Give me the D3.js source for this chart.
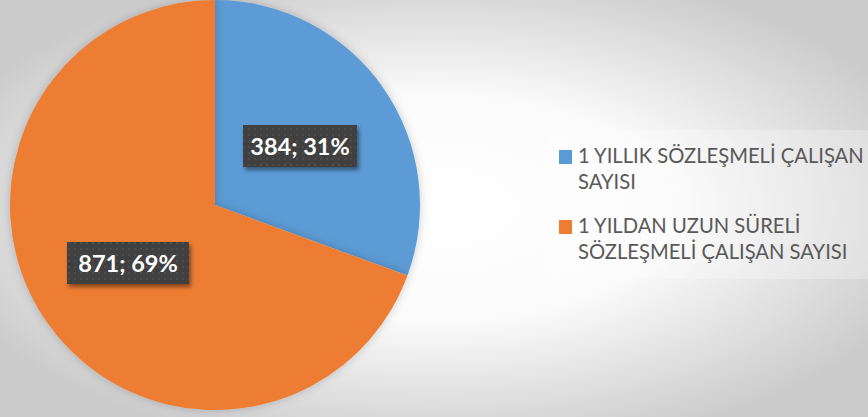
<!DOCTYPE html>
<html><head><meta charset="utf-8">
<script src="https://cdn.jsdelivr.net/npm/d3@7"></script>
<style>body{margin:0;overflow:hidden}svg{display:block}</style>
</head><body>
<script>
const categories = ["1 YILLIK SÖZLEŞMELİ ÇALIŞAN SAYISI", "1 YILDAN UZUN SÜRELİ SÖZLEŞMELİ ÇALIŞAN SAYISI"];
const legendLines = [["1 YILLIK SÖZLEŞMELİ ÇALIŞAN", "SAYISI"], ["1 YILDAN UZUN SÜRELİ", "SÖZLEŞMELİ ÇALIŞAN SAYISI"]];
const values = [384, 871];
const colors = ["#5B9BD5", "#ED7D31"];

const W = 868, H = 417;
const svg = d3.select("body").append("svg").attr("width", W).attr("height", H);
const defs = svg.append("defs");
const rg = defs.append("radialGradient").attr("id","bg").attr("cx","50%").attr("cy","50%").attr("r","60%");
rg.append("stop").attr("offset","0%").attr("stop-color","#ffffff");
rg.append("stop").attr("offset","45%").attr("stop-color","#fbfbfb");
rg.append("stop").attr("offset","100%").attr("stop-color","#cbcbcb");
svg.append("rect").attr("width",W).attr("height",H).attr("fill","url(#bg)");

const pat = defs.append("pattern").attr("id","dots").attr("width",6).attr("height",6).attr("patternUnits","userSpaceOnUse");
pat.append("rect").attr("width",6).attr("height",6).attr("fill","#404040");
pat.append("rect").attr("x",2).attr("y",2).attr("width",2).attr("height",2).attr("fill","#4e4e4e");
const flt = defs.append("filter").attr("id","sh").attr("x","-20%").attr("y","-20%").attr("width","150%").attr("height","160%");
flt.append("feDropShadow").attr("dx",2).attr("dy",3).attr("stdDeviation",2).attr("flood-color","#000").attr("flood-opacity",0.45);
const flt2 = defs.append("filter").attr("id","psh").attr("x","-10%").attr("y","-10%").attr("width","120%").attr("height","120%");
flt2.append("feDropShadow").attr("dx",0).attr("dy",0).attr("stdDeviation",5).attr("flood-color","#000").attr("flood-opacity",0.2);

const cx = 215, cy = 205, R = 205;
const total = d3.sum(values);
const pie = d3.pie().sort(null).value(d => d)(values);
const arc = d3.arc().innerRadius(0).outerRadius(R);
const g = svg.append("g").attr("transform",`translate(${cx},${cy})`);
g.selectAll("path").data(pie).join("path").attr("d",arc).attr("fill",(d,i)=>colors[i]).attr("filter","url(#psh)");

const labelPos = [[300,146],[128,263]];
const lg = svg.append("g");
pie.forEach((d,i)=>{
  const txt = `${values[i]}; ${Math.round(values[i]/total*100)}%`;
  const [x,y] = labelPos[i];
  const bw = i===0?114:122, bh = 42;
  lg.append("rect").attr("x",x-bw/2).attr("y",y-bh/2).attr("width",bw).attr("height",bh)
    .attr("fill","url(#dots)").attr("filter","url(#sh)");
  lg.append("text").attr("x",x).attr("y",y+8.5).attr("text-anchor","middle")
    .attr("font-family","Lato, 'Open Sans', sans-serif").attr("font-weight","bold").attr("font-size",23.5)
    .attr("fill","#ffffff").text(txt);
});

svg.append("rect").attr("x",546).attr("y",130).attr("width",322).attr("height",149).attr("fill","#ffffff").attr("opacity",0.25);
const leg = svg.append("g");
const itemY = [150, 220];
legendLines.forEach((lines,i)=>{
  leg.append("rect").attr("x",559).attr("y",itemY[i]).attr("width",13).attr("height",14).attr("fill",colors[i]);
  lines.forEach((ln,j)=>{
    leg.append("text").attr("x",578).attr("y",itemY[i]+13+j*26)
      .attr("font-family","Lato, 'Open Sans', sans-serif").attr("font-size",20.2).attr("fill","#595959").text(ln);
  });
});
</script>
</body></html>
